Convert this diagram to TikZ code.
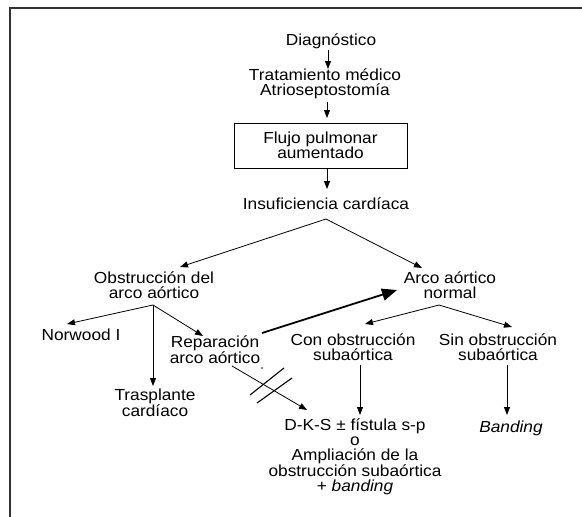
\documentclass[tikz,border=0pt]{standalone}
\usepackage{fontspec}
\setmainfont[FakeStretch=1.08]{Liberation Sans}
\usetikzlibrary{arrows.meta}
\begin{document}
\begin{tikzpicture}[x=1pt,y=-1pt,
  lbl/.style={inner sep=0pt,align=center,font=\fontsize{16}{15}\selectfont,text=black},
  arr/.style={line width=0.8pt,-{Triangle[length=8pt,width=6pt]}},
  thickarr/.style={line width=1.8pt,-{Triangle[length=15pt,width=12pt]}},
  frame/.style={line width=1.5pt,draw=black!80},
  boxst/.style={draw,line width=0.8pt,minimum width=173pt,minimum height=45pt,inner sep=0pt,align=center,font=\fontsize{16}{15}\selectfont}]
\useasboundingbox (0,0) rectangle (582,517);
\draw[frame] (10,517) -- (10,8) -- (582,8);

% nodes
\node[lbl] (diag) at (331,41) {Diagnóstico};
\node[lbl] (trat) at (325,84) {Tratamiento médico\\Atrioseptostomía};
\node[boxst] (flujo) at (320.5,145.5) {Flujo pulmonar\\aumentado};
\node[lbl] (ins) at (326,204) {Insuficiencia cardíaca};
\node[lbl] (obs) at (154,285) {Obstrucción del\\arco aórtico};
\node[lbl] (arco) at (450,285) {Arco aórtico\\normal};
\node[lbl] (nor) at (81,335) {Norwood I};
\node[lbl] (rep) at (215,350) {Reparación\\arco aórtico};
\node[lbl] (tras) at (155,403) {Trasplante\\cardíaco};
\node[lbl] (con) at (353,347) {Con obstrucción\\subaórtica};
\node[lbl] (sin) at (498,347) {Sin obstrucción\\subaórtica};
\node[lbl] (dks) at (355,457) {D-K-S ± fístula s-p\\o\\Ampliación de la\\obstrucción subaórtica\\+ \textit{banding}};
\node[lbl] (band) at (511,428) {\textit{Banding}};

% connector end points
\coordinate (diagS) at (328,50);
\coordinate (tratN) at (328,69);
\coordinate (tratS) at (327,102);
\coordinate (flujoN) at (327,118);
\coordinate (flujoS) at (327,168);
\coordinate (insN) at (327,189);
\coordinate (insS) at (326,219);
\coordinate (obsN) at (180,267);
\coordinate (arcoN) at (422,268);
\coordinate (obsS) at (153,305);
\coordinate (norN) at (67,324);
\coordinate (repN) at (203,336);
\coordinate (trasN) at (153,386);
\coordinate (arcoS) at (439,305);
\coordinate (conN) at (365,324);
\coordinate (sinN) at (512,327);
\coordinate (repE) at (262,333);
\coordinate (arcoW) at (397,290);
\coordinate (repS) at (232,366);
\coordinate (dksNW) at (307,410);
\coordinate (conS) at (360,365);
\coordinate (dksN) at (360,415);
\coordinate (sinS) at (507,365);
\coordinate (bandN) at (507,415);

% connectors
\draw[arr] (diagS) -- (tratN);
\draw[arr] (tratS) -- (flujoN);
\draw[arr] (flujoS) -- (insN);
\draw[arr] (insS) -- (obsN);
\draw[arr] (insS) -- (arcoN);
\draw[arr] (obsS) -- (norN);
\draw[arr] (obsS) -- (repN);
\draw[arr] (obsS) -- (trasN);
\draw[arr] (arcoS) -- (conN);
\draw[arr] (arcoS) -- (sinN);
\draw[arr] (repS) -- (dksNW);
\draw[arr] (conS) -- (dksN);
\draw[arr] (sinS) -- (bandN);
\draw[thickarr] (repE) -- (arcoW);

% double slash
\coordinate (s1a) at (250,395);
\coordinate (s1b) at (284,368);
\coordinate (s2a) at (257,403);
\coordinate (s2b) at (292,378);
\draw[line width=1.1pt] (s1a) -- (s1b);
\draw[line width=1.1pt] (s2a) -- (s2b);
\fill (262,368) circle (0.9pt);
\end{tikzpicture}
\end{document}
